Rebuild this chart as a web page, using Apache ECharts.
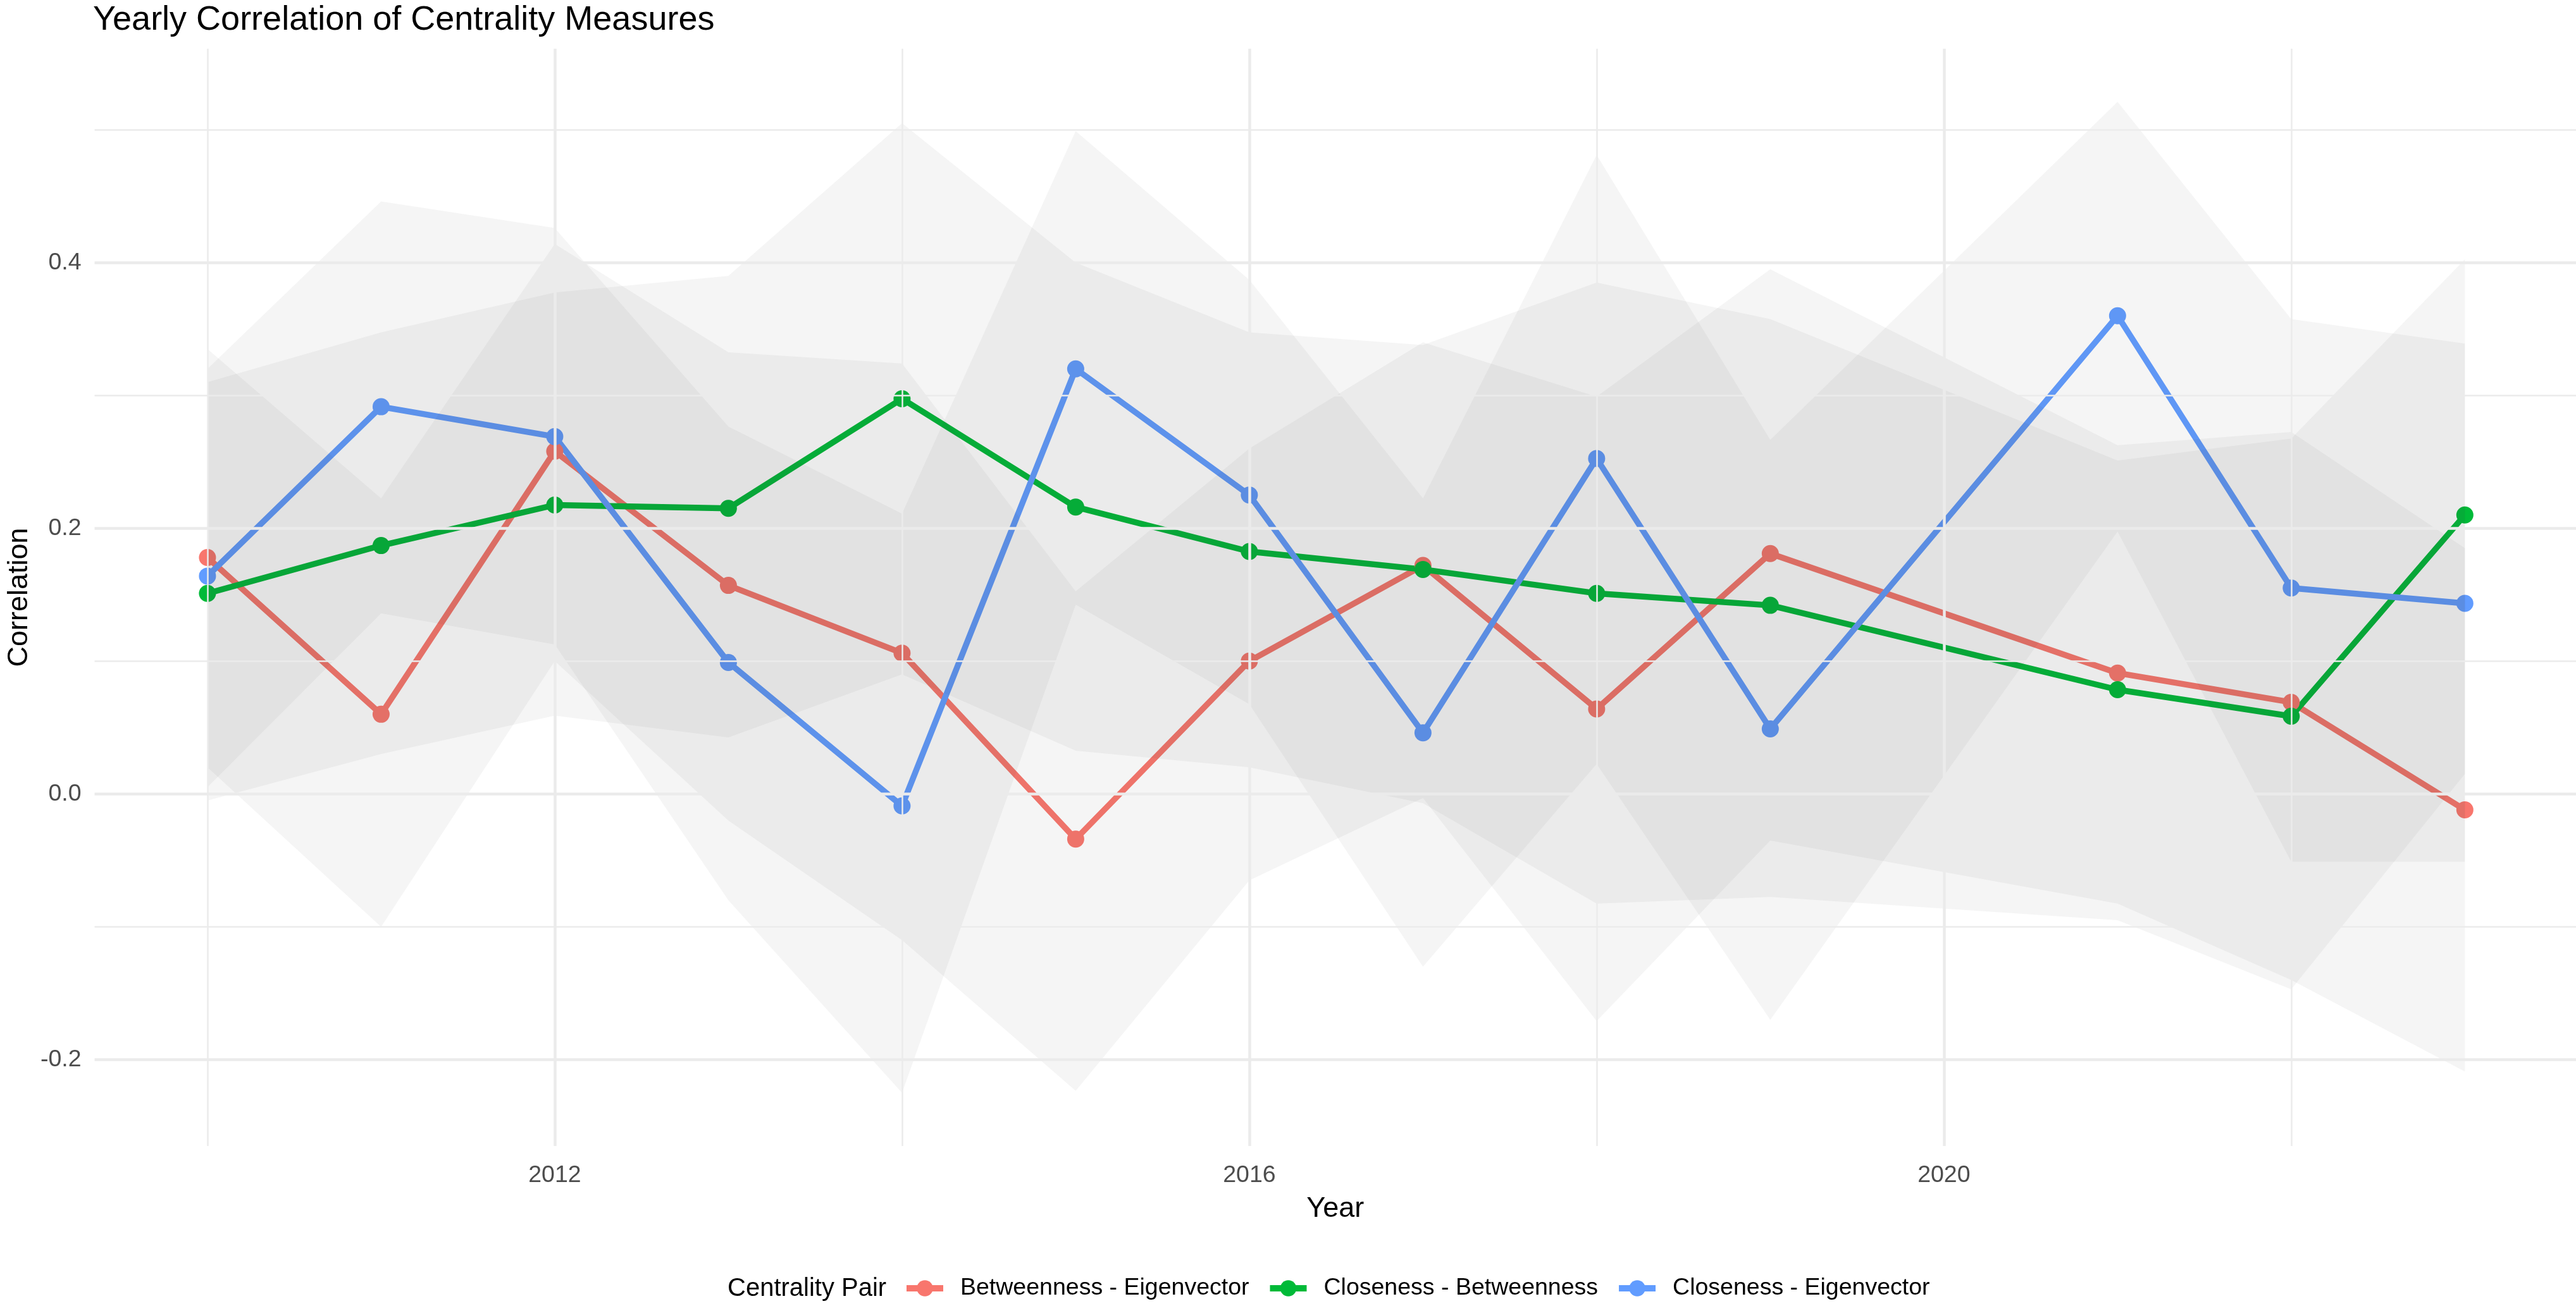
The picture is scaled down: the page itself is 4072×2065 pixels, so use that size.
<!DOCTYPE html>
<html>
<head>
<meta charset="utf-8">
<script src="https://cdn.jsdelivr.net/npm/echarts@6/dist/echarts.min.js"></script>
<style>
html, body { margin: 0; padding: 0; background: #ffffff; }
#chart { width: 4072px; height: 2065px; }
</style>
</head>
<body>
<div id="chart"></div>
<script>
// ---- data ----
const years = [2010, 2011, 2012, 2013, 2014, 2015, 2016, 2017, 2018, 2019, 2021, 2022, 2023];

const seriesNames = ['Betweenness - Eigenvector', 'Closeness - Betweenness', 'Closeness - Eigenvector'];

const betweenEigen      = [0.178, 0.060, 0.258, 0.157, 0.106, -0.034, 0.100, 0.172, 0.064, 0.181, 0.091, 0.069, -0.012];
const betweenEigenLow   = [0.020, -0.100, 0.100, -0.020, -0.110, -0.2235, -0.065, -0.003, -0.171, -0.035, -0.0825, -0.140, -0.209];
const betweenEigenHigh  = [0.335, 0.2225, 0.414, 0.3325, 0.324, 0.1525, 0.260, 0.340, 0.299, 0.395, 0.2625, 0.2725, 0.185];

const closeBetween      = [0.151, 0.187, 0.2175, 0.215, 0.2975, 0.216, 0.1825, 0.169, 0.151, 0.142, 0.0785, 0.0585, 0.210];
const closeBetweenLow   = [-0.005, 0.030, 0.059, 0.0425, 0.090, 0.0325, 0.020, -0.007, -0.0825, -0.0775, -0.095, -0.147, 0.015];
const closeBetweenHigh  = [0.310, 0.3475, 0.3775, 0.390, 0.505, 0.400, 0.3475, 0.338, 0.385, 0.3575, 0.251, 0.2675, 0.4025];

const closeEigen        = [0.164, 0.2915, 0.269, 0.099, -0.009, 0.320, 0.225, 0.046, 0.2525, 0.049, 0.360, 0.155, 0.1435];
const closeEigenLow     = [0.005, 0.136, 0.1125, -0.080, -0.225, 0.1425, 0.0675, -0.130, 0.0225, -0.170, 0.1975, -0.051, -0.051];
const closeEigenHigh    = [0.320, 0.446, 0.426, 0.2765, 0.211, 0.499, 0.387, 0.2225, 0.481, 0.2665, 0.521, 0.3575, 0.339];

const yTickLabels = [-0.2, 0.0, 0.2, 0.4];
const yMinorBreaks = [-0.1, 0.1, 0.3, 0.5];
const xTickLabels = [2012, 2016, 2020];
const xMinorBreaks = [2010, 2014, 2018, 2022];

// ---- styling ----
const FONT = "'Liberation Sans', Arial, Helvetica, sans-serif";
const colors = ['#F8766D', '#00BA38', '#619CFF'];
const values = [betweenEigen, closeBetween, closeEigen];
const lows = [betweenEigenLow, closeBetweenLow, closeEigenLow];
const highs = [betweenEigenHigh, closeBetweenHigh, closeEigenHigh];

function ribbonSeries(lo, hi) {
  return {
    type: 'custom',
    z: 3,
    silent: true,
    clip: true,
    data: years.map((y, i) => [y, lo[i], hi[i]]),
    encode: { x: 0, y: [1, 2] },
    renderItem: function (params, api) {
      if (params.dataIndex !== 0) return null;
      const top = [], bottom = [];
      for (let i = 0; i < years.length; i++) {
        top.push(api.coord([years[i], hi[i]]));
        bottom.push(api.coord([years[i], lo[i]]));
      }
      return {
        type: 'polygon',
        shape: { points: top.concat(bottom.reverse()) },
        style: { fill: 'rgba(51,51,51,0.05)' }
      };
    }
  };
}

const gridLineSeries = {
  type: 'line',
  name: '__grid',
  z: 1,
  silent: true,
  data: [[2010, 0]],
  symbol: 'none',
  lineStyle: { width: 0, opacity: 0 },
  markLine: {
    silent: true,
    symbol: ['none', 'none'],
    label: { show: false },
    animation: false,
    data: []
      .concat(yTickLabels.map(v => ({ yAxis: v, lineStyle: { color: '#EBEBEB', width: 4.5, type: 'solid' } })))
      .concat(yMinorBreaks.map(v => ({ yAxis: v, lineStyle: { color: '#EBEBEB', width: 2.5, type: 'solid' } })))
      .concat(xTickLabels.map(v => ({ xAxis: v, lineStyle: { color: '#EBEBEB', width: 4.5, type: 'solid' } })))
      .concat(xMinorBreaks.map(v => ({ xAxis: v, lineStyle: { color: '#EBEBEB', width: 2.5, type: 'solid' } })))
  }
};

const lineSeries = seriesNames.map((name, k) => ({
  type: 'line',
  name: name,
  z: 2,
  data: years.map((y, i) => [y, values[k][i]]),
  symbol: 'circle',
  symbolSize: 27,
  showSymbol: true,
  lineStyle: { color: colors[k], width: 9.4 },
  itemStyle: { color: colors[k] },
  emphasis: { disabled: true }
}));

const ribbons = seriesNames.map((name, k) => ribbonSeries(lows[k], highs[k]));

const option = {
  animation: false,
  backgroundColor: '#ffffff',
  textStyle: { fontFamily: FONT },
  title: [
    {
      text: 'Yearly Correlation of Centrality Measures',
      left: 147, top: 5, padding: 0,
      textStyle: { fontFamily: FONT, fontSize: 54, fontWeight: 'normal', color: '#000000' }
    },
    {
      text: 'Centrality Pair',
      left: 1150, top: 2018, padding: 0,
      textStyle: { fontFamily: FONT, fontSize: 40, fontWeight: 'normal', color: '#000000' }
    }
  ],
  legend: {
    data: seriesNames,
    left: 1428,
    top: 2018,
    padding: 0,
    itemWidth: 58,
    itemHeight: 32,
    itemGap: 28,
    selectedMode: false,
    lineStyle: { width: 10 },
    textStyle: { fontFamily: FONT, fontSize: 37.5, color: '#000000', padding: [0, 0, 0, 22] }
  },
  grid: { left: 143, right: 0, top: 77, bottom: 253, containLabel: false },
  xAxis: {
    type: 'value',
    min: 2009.35,
    max: 2023.64,
    name: 'Year',
    nameLocation: 'middle',
    nameGap: 77,
    nameTextStyle: { fontFamily: FONT, fontSize: 45, color: '#000000' },
    axisLine: { show: false },
    axisTick: { show: false },
    splitLine: { show: false },
    axisLabel: {
      customValues: xTickLabels,
      formatter: v => String(v),
      fontFamily: FONT, fontSize: 37.5, color: '#4D4D4D', margin: 28
    }
  },
  yAxis: {
    type: 'value',
    min: -0.265,
    max: 0.561,
    name: 'Correlation',
    nameLocation: 'middle',
    nameRotate: 90,
    nameGap: 90,
    nameTextStyle: { fontFamily: FONT, fontSize: 45, color: '#000000' },
    axisLine: { show: false },
    axisTick: { show: false },
    splitLine: { show: false },
    axisLabel: {
      customValues: yTickLabels,
      formatter: v => Number(v).toFixed(1),
      fontFamily: FONT, fontSize: 37.5, color: '#4D4D4D', margin: 21
    }
  },
  series: [gridLineSeries].concat(lineSeries).concat(ribbons)
};

const chart = echarts.init(document.getElementById('chart'), null, { renderer: 'canvas' });
chart.setOption(option);
</script>
</body>
</html>
